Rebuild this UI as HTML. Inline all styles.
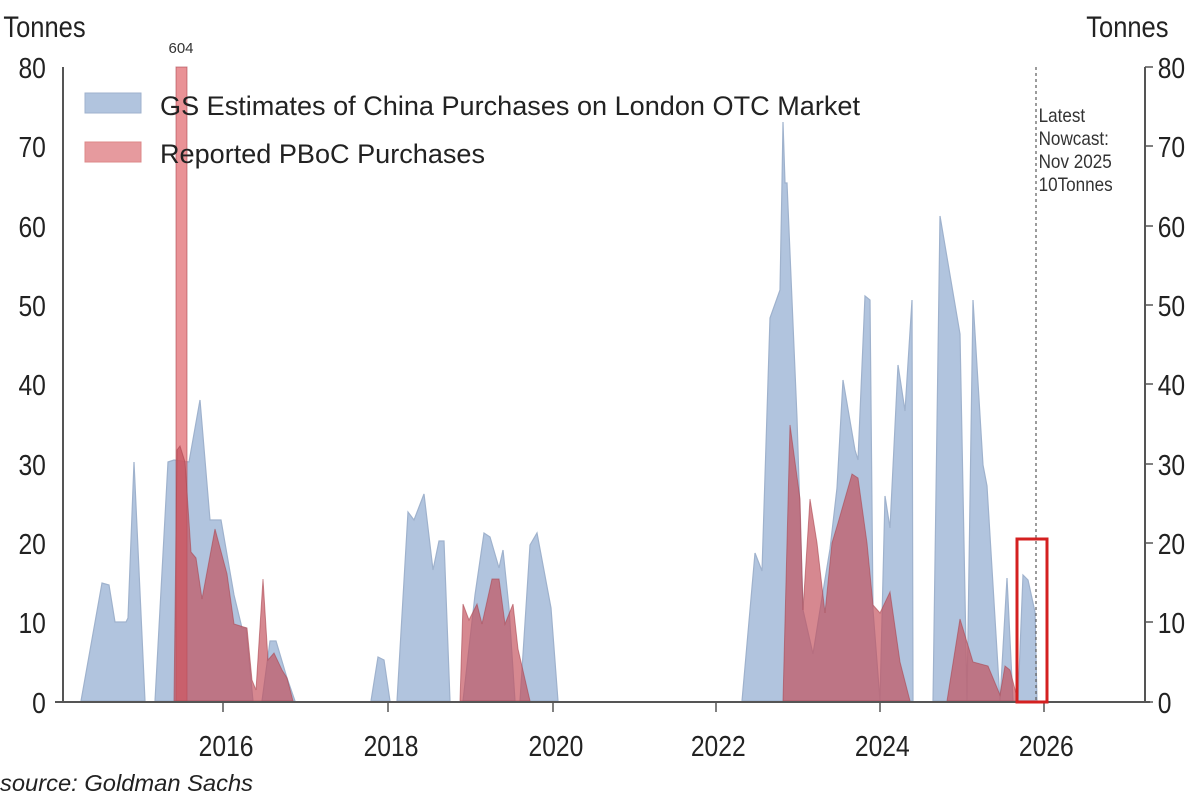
<!DOCTYPE html>
<html><head><meta charset="utf-8"><style>
html,body{margin:0;padding:0;background:#fff;}
svg{display:block;font-family:"Liberation Sans",Arial,sans-serif;}
</style></head><body>
<svg width="1200" height="800" viewBox="0 0 1200 800" xmlns="http://www.w3.org/2000/svg">
<rect width="1200" height="800" fill="#fff"/>
<g fill="#b1c4de" stroke="#9fb2cd" stroke-width="1.2">
<polygon points="81,701 102,583 109,585 115,622 126,622 128,618 134,462 145,701"/>
<polygon points="155,701 168,462 174,460 189,462 200,400 210,520 221,520 234,595 242,628 246,628 253,701"/>
<polygon points="262,701 270,641 276,641 287,678 295,701"/>
<polygon points="371,701 378,657 384,660 390,701"/>
<polygon points="397,701 408,512 414,520 424,494 433,570 439,541 444,541 450,701"/>
<polygon points="463,701 475,595 484,533 490,537 499,568 503,550 509,608 515,701"/>
<polygon points="520,701 530,545 537,533 551,608 558,701"/>
<polygon points="742,701 755,553 762,571 770,318 780,290 782,183 783,122 785,183 787,183 797,418 803,610 813,654 820,610 830,549 837,488 843,380 855,450 858,460 865,296 870,300 873,610 880,701 885,496 890,528 898,365 905,411 912,300 913,701"/>
<polygon points="933,701 940,216 960,334 967,701 973,300 983,465 987,486 1000,701"/>
<polygon points="1000,701 1007,578 1013,701"/>
<polygon points="1018,701 1023,575 1028,580 1035,612 1037,701"/>
</g>
<g fill="rgba(195,80,92,0.68)" stroke="rgba(170,70,80,0.6)" stroke-width="1">
<rect x="176" y="67" width="11" height="634" fill="rgba(225,110,115,0.75)"/>
<polygon points="174,701 177,450 180,446 185,462 191,552 196,558 202,599 215,529 227,574 234,624 247,628 252,680 256,690 263,579 268,660 274,653 282,670 287,678 293,701"/>
<polygon points="460,701 463,604 469,620 477,604 482,624 492,579 499,579 505,624 513,604 518,649 530,701"/>
<polygon points="783,701 790,425 800,499 803,610 810,499 817,543 825,613 832,543 838,523 852,474 858,478 867,543 873,605 880,613 890,592 900,662 910,701"/>
<polygon points="947,701 960,619 973,662 988,666 1000,695 1005,666 1010,670 1018,701"/>
</g>
<g stroke="#555" stroke-width="2" fill="none">
<line x1="63" y1="67" x2="63" y2="702"/>
<line x1="1145" y1="67" x2="1145" y2="702"/>
<line x1="55" y1="702" x2="1150" y2="702"/>
</g>
<g stroke="#555" stroke-width="1.5">
<line x1="1145" y1="67" x2="1153" y2="67"/><line x1="1145" y1="146" x2="1153" y2="146"/>
<line x1="1145" y1="226" x2="1153" y2="226"/><line x1="1145" y1="305" x2="1153" y2="305"/>
<line x1="1145" y1="384" x2="1153" y2="384"/><line x1="1145" y1="464" x2="1153" y2="464"/>
<line x1="1145" y1="543" x2="1153" y2="543"/><line x1="1145" y1="622" x2="1153" y2="622"/>
<line x1="1145" y1="702" x2="1153" y2="702"/>
<line x1="223" y1="702" x2="223" y2="712"/><line x1="388" y1="702" x2="388" y2="712"/>
<line x1="553" y1="702" x2="553" y2="712"/><line x1="716" y1="702" x2="716" y2="712"/>
<line x1="880" y1="702" x2="880" y2="712"/><line x1="1044" y1="702" x2="1044" y2="712"/>
</g>
<line x1="1036" y1="67" x2="1036" y2="701" stroke="#666" stroke-width="1.3" stroke-dasharray="3,3"/>
<rect x="1017" y="539" width="30" height="163" fill="none" stroke="#d42020" stroke-width="3"/>
<g font-size="30" fill="#222" transform="scale(0.85,1)">
<text x="4" y="37">Tonnes</text>
<text x="1278" y="37">Tonnes</text>
</g>
<g font-size="29" fill="#222" text-anchor="end" transform="scale(0.85,1)">
<text x="54" y="78">80</text><text x="54" y="157">70</text><text x="54" y="237">60</text>
<text x="54" y="316">50</text><text x="54" y="395">40</text><text x="54" y="475">30</text>
<text x="54" y="554">20</text><text x="54" y="633">10</text><text x="54" y="713">0</text>
</g>
<g font-size="29" fill="#222" transform="scale(0.85,1)">
<text x="1362" y="78">80</text><text x="1362" y="157">70</text><text x="1362" y="237">60</text>
<text x="1362" y="316">50</text><text x="1362" y="395">40</text><text x="1362" y="475">30</text>
<text x="1362" y="554">20</text><text x="1362" y="633">10</text><text x="1362" y="713">0</text>
</g>
<g font-size="29" fill="#222" text-anchor="middle" transform="scale(0.85,1)">
<text x="266" y="756">2016</text><text x="460" y="756">2018</text><text x="654" y="756">2020</text>
<text x="845" y="756">2022</text><text x="1038" y="756">2024</text><text x="1231" y="756">2026</text>
</g>
<text x="181" y="53" font-size="15" fill="#333" text-anchor="middle">604</text>
<rect x="85" y="93" width="56" height="20" fill="#b1c4de" stroke="#9fb2cd"/>
<rect x="85" y="142" width="56" height="20" fill="#e69a9e" stroke="#d88"/>
<text x="160" y="115" font-size="27" fill="#222" textLength="700" lengthAdjust="spacingAndGlyphs">GS Estimates of China Purchases on London OTC Market</text>
<text x="160" y="163" font-size="27" fill="#222" textLength="325" lengthAdjust="spacingAndGlyphs">Reported PBoC Purchases</text>
<g font-size="19" fill="#333" transform="scale(0.9,1)">
<text x="1154" y="122">Latest</text>
<text x="1154" y="145">Nowcast:</text>
<text x="1154" y="168">Nov 2025</text>
<text x="1154" y="191">10Tonnes</text>
</g>
<text x="0" y="791" font-size="23" font-style="italic" fill="#222" textLength="253" lengthAdjust="spacingAndGlyphs">source: Goldman Sachs</text>
</svg>
</body></html>
